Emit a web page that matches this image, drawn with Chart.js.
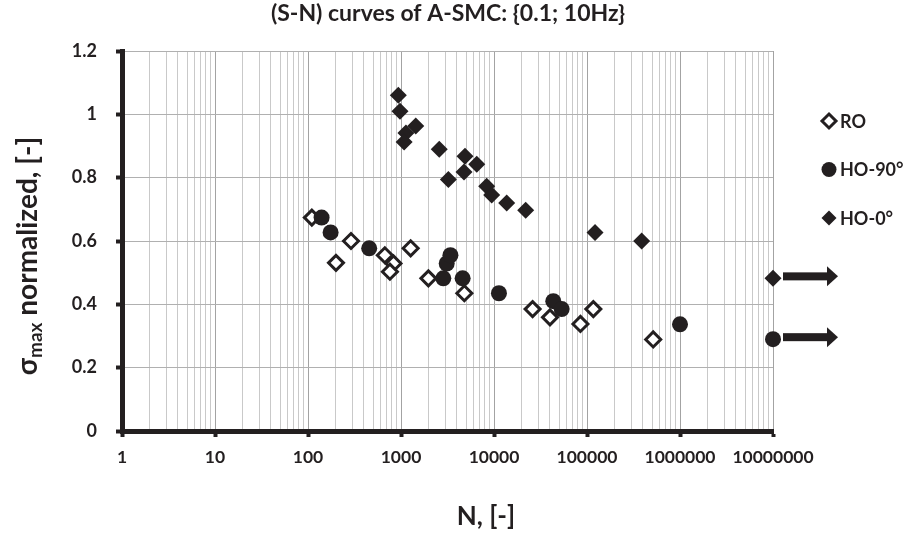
<!DOCTYPE html>
<html>
<head>
<meta charset="utf-8">
<title>(S-N) curves of A-SMC</title>
<script src="https://cdn.jsdelivr.net/npm/chart.js@4.4.1/dist/chart.umd.min.js"></script>
<style>
  html, body { margin: 0; padding: 0; background: #ffffff; }
  #wrap { width: 904px; height: 535px; }
</style>
</head>
<body>
<div id="wrap"><canvas id="graficoSN" width="904" height="535"></canvas></div>
<script>
/* ==========================================================================
   1. DATOS
   ========================================================================== */
const chartTitle = '(S-N) curves of A-SMC: {0.1; 10Hz}';
const xTitle = 'N, [-]';
const yTitleSymbol = 'σ';
const yTitleSub = 'max';
const yTitleRest = ' normalized, [-]';

const seriesNames = ['RO', 'HO-90°', 'HO-0°'];

// RO (rombos vacíos)
const roCycles = [110, 200, 290, 670, 830, 760, 1270, 1970, 4800, 26000, 40000, 85000, 117000, 515000];
const roStress = [0.674, 0.531, 0.600, 0.555, 0.529, 0.503, 0.577, 0.482, 0.435, 0.385, 0.359, 0.338, 0.385, 0.289];

// HO-90° (círculos)
const ho90Cycles = [140, 175, 455, 2850, 3100, 3400, 4600, 11300, 43400, 53400, 1000000, 10000000];
const ho90Stress = [0.674, 0.627, 0.577, 0.482, 0.529, 0.555, 0.482, 0.435, 0.410, 0.385, 0.337, 0.290];

// HO-0° (rombos llenos)
const ho0Cycles = [935, 975, 1440, 1130, 1080, 2580, 4880, 6520, 4760, 3230, 8340, 9440, 13700, 21900, 122000, 387000, 10000000];
const ho0Stress = [1.060, 1.010, 0.963, 0.941, 0.913, 0.890, 0.868, 0.842, 0.818, 0.794, 0.773, 0.745, 0.720, 0.697, 0.627, 0.600, 0.482];

// Ejes
const xDecades = [1, 10, 100, 1000, 10000, 100000, 1000000, 10000000];
const xTickLabels = ['1', '10', '100', '1000', '10000', '100000', '1000000', '10000000'];
const xMinorSteps = [2, 3, 4, 5, 6, 7, 8, 9];
const yTicks = [0, 0.2, 0.4, 0.6, 0.8, 1, 1.2];
const yTickLabels = ['0', '0.2', '0.4', '0.6', '0.8', '1', '1.2'];

/* ==========================================================================
   2. ESTILOS
   ========================================================================== */
const INK = '#231f20';
const FONT = 'Lato';
Chart.defaults.font.family = FONT;
Chart.defaults.color = INK;

const runout = xDecades[xDecades.length - 1]; // ensayos sin rotura (flecha)

function toPoints(xs, ys) {
    return xs.map((x, i) => ({ x: x, y: ys[i] }));
}

function esDecada(v) {
    return xDecades.some(d => Math.abs(d - v) < d * 1e-9);
}

function trazarMarcador(ctx, estilo, x, y) {
    ctx.save();
    ctx.beginPath();
    const r = estilo.radius;
    if (estilo.pointStyle === 'circle') {
        ctx.arc(x, y, r, 0, Math.PI * 2);
    } else {
        ctx.moveTo(x, y - r);
        ctx.lineTo(x + r, y);
        ctx.lineTo(x, y + r);
        ctx.lineTo(x - r, y);
        ctx.closePath();
    }
    ctx.fillStyle = estilo.backgroundColor;
    ctx.fill();
    if (estilo.borderWidth) {
        ctx.lineWidth = estilo.borderWidth;
        ctx.strokeStyle = estilo.borderColor;
        ctx.lineJoin = 'miter';
        ctx.stroke();
    }
    ctx.restore();
}

/* ==========================================================================
   3. PLUGINS (título, leyenda, títulos de ejes, flechas)
   ========================================================================== */
const flechasPlugin = {
    id: 'flechas',
    afterDatasetsDraw(chart) {
        const ctx = chart.ctx;
        chart.data.datasets.forEach((ds, i) => {
            const meta = chart.getDatasetMeta(i);
            ds.data.forEach((p, j) => {
                if (p.x < runout) return;
                const el = meta.data[j];
                const x0 = el.x + 10, y0 = el.y - 2;
                ctx.save();
                ctx.fillStyle = INK;
                ctx.fillRect(x0, y0 - 4, 46, 8);
                ctx.beginPath();
                ctx.moveTo(x0 + 44, y0 - 10);
                ctx.lineTo(x0 + 55, y0);
                ctx.lineTo(x0 + 44, y0 + 10);
                ctx.closePath();
                ctx.fill();
                ctx.restore();
            });
        });
    }
};

const leyendaPlugin = {
    id: 'leyendaLateral',
    afterDraw(chart) {
        const ctx = chart.ctx;
        chart.data.datasets.forEach((ds, i) => {
            const y = 121 + i * 48.5;
            trazarMarcador(ctx, {
                pointStyle: ds.pointStyle,
                radius: ds.legendRadius,
                backgroundColor: ds.pointBackgroundColor,
                borderColor: ds.pointBorderColor,
                borderWidth: ds.pointBorderWidth
            }, 829, y);
            ctx.save();
            ctx.font = 'bold 18px ' + FONT;
            ctx.fillStyle = INK;
            ctx.textBaseline = 'middle';
            ctx.fillText(ds.label, 840, y + 1);
            ctx.restore();
        });
    }
};

const titulosPlugin = {
    id: 'titulos',
    afterDraw(chart) {
        const ctx = chart.ctx;
        ctx.save();
        ctx.fillStyle = INK;
        ctx.textAlign = 'center';
        ctx.textBaseline = 'middle';
        ctx.font = 'bold 23px ' + FONT;
        ctx.fillText(chartTitle, 448, 14);
        ctx.font = 'bold 26px ' + FONT;
        ctx.fillText(xTitle, 486, 517);
        ctx.restore();

        // Eje Y con subíndice
        const mainFont = 'bold 28px ' + FONT;
        const subFont = 'bold 19px ' + FONT;
        ctx.save();
        ctx.fillStyle = INK;
        ctx.translate(37, 256);
        ctx.rotate(-Math.PI / 2);
        ctx.textBaseline = 'alphabetic';
        ctx.font = mainFont;
        const w1 = ctx.measureText(yTitleSymbol).width;
        const w3 = ctx.measureText(yTitleRest).width;
        ctx.font = subFont;
        const w2 = ctx.measureText(yTitleSub).width;
        let x = -(w1 + w2 + w3) / 2;
        ctx.font = mainFont;
        ctx.fillText(yTitleSymbol, x, 0);
        x += w1;
        ctx.font = subFont;
        ctx.fillText(yTitleSub, x, 5);
        x += w2;
        ctx.font = mainFont;
        ctx.fillText(yTitleRest, x, 0);
        ctx.restore();
    }
};

/* ==========================================================================
   4. GRÁFICO
   ========================================================================== */
const ctx = document.getElementById('graficoSN').getContext('2d');

new Chart(ctx, {
    type: 'scatter',
    data: {
        datasets: [
            {
                label: seriesNames[0],
                data: toPoints(roCycles, roStress),
                pointStyle: 'rectRot',
                pointRadius: 7.5,
                legendRadius: 7,
                pointBorderWidth: 3,
                pointBorderColor: INK,
                pointBackgroundColor: '#ffffff',
                order: 2,
                clip: false
            },
            {
                label: seriesNames[1],
                data: toPoints(ho90Cycles, ho90Stress),
                pointStyle: 'circle',
                pointRadius: 8,
                legendRadius: 7.5,
                pointBorderWidth: 0,
                pointBorderColor: INK,
                pointBackgroundColor: INK,
                order: 0,
                clip: false
            },
            {
                label: seriesNames[2],
                data: toPoints(ho0Cycles, ho0Stress),
                pointStyle: 'rectRot',
                pointRadius: 8.5,
                legendRadius: 7.5,
                pointBorderWidth: 0,
                pointBorderColor: INK,
                pointBackgroundColor: INK,
                order: 1,
                clip: false
            }
        ]
    },
    options: {
        responsive: false,
        animation: false,
        layout: { padding: { left: 0, right: 131, top: 51, bottom: 0 } },
        plugins: {
            legend: { display: false },
            tooltip: { enabled: false },
            title: { display: false }
        },
        scales: {
            x: {
                type: 'logarithmic',
                min: xDecades[0],
                max: xDecades[xDecades.length - 1],
                afterBuildTicks: (scale) => {
                    const ticks = [];
                    xDecades.forEach((d, i) => {
                        ticks.push({ value: d });
                        if (i < xDecades.length - 1) {
                            xMinorSteps.forEach(m => ticks.push({ value: d * m }));
                        }
                    });
                    scale.ticks = ticks;
                },
                afterFit: (scale) => { scale.height = 104; },
                ticks: {
                    autoSkip: false,
                    maxRotation: 0,
                    padding: 10,
                    color: INK,
                    font: { size: 17.5, weight: 'bold' },
                    callback: (v) => {
                        const i = xDecades.findIndex(d => Math.abs(d - v) < d * 1e-9);
                        return i >= 0 ? xTickLabels[i] : '';
                    }
                },
                grid: {
                    color: (c) => (c.tick && esDecada(c.tick.value)) ? '#a3a3a3' : '#c9c9c9',
                    lineWidth: 1,
                    tickColor: (c) => (c.tick && esDecada(c.tick.value)) ? INK : 'rgba(0,0,0,0)',
                    tickLength: 6,
                    tickWidth: 4
                },
                border: { color: INK, width: 5 }
            },
            y: {
                min: yTicks[0],
                max: yTicks[yTicks.length - 1],
                afterBuildTicks: (scale) => {
                    scale.ticks = yTicks.map(v => ({ value: v }));
                },
                afterFit: (scale) => { scale.width = 122; },
                ticks: {
                    padding: 19,
                    color: INK,
                    font: { size: 18, weight: 'bold' },
                    callback: (v, i) => yTickLabels[i]
                },
                grid: {
                    color: '#b0b0b0',
                    lineWidth: 1,
                    tickColor: INK,
                    tickLength: 6,
                    tickWidth: 4
                },
                border: { color: INK, width: 5 }
            }
        }
    },
    plugins: [flechasPlugin, leyendaPlugin, titulosPlugin]
});
</script>
</body>
</html>
